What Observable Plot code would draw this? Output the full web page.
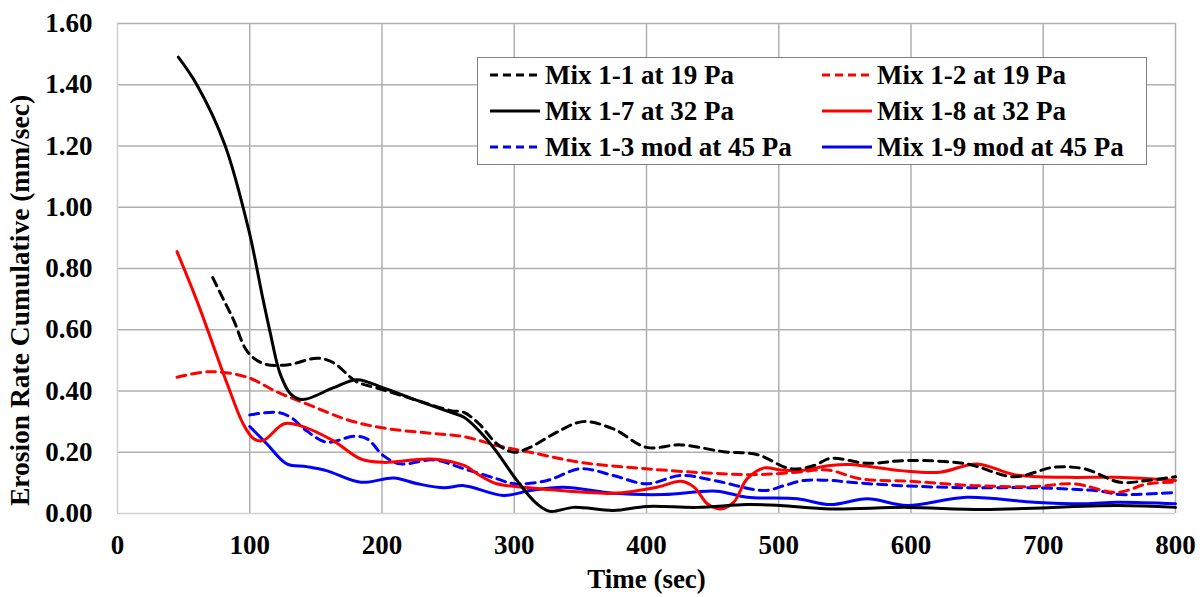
<!DOCTYPE html>
<html>
<head>
<meta charset="utf-8">
<script src="https://cdn.jsdelivr.net/npm/d3@7"></script>
<script src="https://cdn.jsdelivr.net/npm/@observablehq/plot@0.6"></script>
<style>
  html, body { margin: 0; padding: 0; background: #fff; }
  #wrap { position: relative; width: 1200px; height: 597px; font-family: "Liberation Serif", "Times New Roman", serif; font-weight: bold; }
  #legend { position: absolute; left: 477px; top: 57px; width: 670px; height: 108px; border: 1px solid #808080; background: #fff; box-sizing: border-box; }
  .item { position: absolute; display: flex; align-items: center; font-size: 27px; line-height: 1; white-space: nowrap; color: #000; }
  .item svg { display: block; margin-right: 5px; }
</style>
</head>
<body>
<div id="wrap"><div id="chart"></div><div id="legend"></div></div>
<script>
// ---------- data ----------
const seriesNames = ["Mix 1-1 at 19 Pa", "Mix 1-2 at 19 Pa", "Mix 1-7 at 32 Pa", "Mix 1-8 at 32 Pa", "Mix 1-3 mod at 45 Pa", "Mix 1-9 mod at 45 Pa"];

const timeMix11 = [72, 80, 88, 98, 110, 128, 151, 163, 181, 196, 226, 252, 262, 274, 287, 300, 312, 332, 352, 375, 400, 426, 458, 484, 509, 527, 539, 567, 597, 642, 678, 708, 731, 758, 779, 800];
const rateMix11 = [0.77, 0.70, 0.63, 0.53, 0.49, 0.485, 0.507, 0.493, 0.43, 0.41, 0.37, 0.336, 0.33, 0.29, 0.227, 0.20, 0.216, 0.265, 0.30, 0.276, 0.216, 0.224, 0.202, 0.192, 0.146, 0.157, 0.18, 0.164, 0.173, 0.162, 0.12, 0.151, 0.146, 0.102, 0.108, 0.12];

const timeMix12 = [45, 70, 98, 121, 143, 176, 206, 237, 262, 287, 312, 350, 400, 451, 484, 514, 537, 562, 600, 648, 693, 723, 756, 779, 800];
const rateMix12 = [0.445, 0.463, 0.445, 0.396, 0.358, 0.303, 0.276, 0.262, 0.251, 0.222, 0.20, 0.167, 0.146, 0.131, 0.127, 0.135, 0.142, 0.113, 0.105, 0.091, 0.088, 0.097, 0.069, 0.097, 0.102];

const timeMix17 = [46, 60, 81, 99, 110, 115.5, 123, 131, 140, 163, 181, 201, 226, 252, 262, 282, 302, 317, 327, 345, 375, 400, 438, 476, 501, 539, 597, 655, 756, 800];
const rateMix17 = [1.49, 1.40, 1.206, 0.93, 0.70, 0.59, 0.456, 0.39, 0.372, 0.41, 0.437, 0.41, 0.37, 0.33, 0.314, 0.228, 0.108, 0.032, 0.007, 0.02, 0.01, 0.023, 0.02, 0.029, 0.026, 0.015, 0.02, 0.013, 0.026, 0.02];

const timeMix18 = [45, 60, 83, 95, 103, 110, 126, 138, 163, 184, 201, 237, 262, 274, 287, 312, 350, 375, 408, 426, 436, 446, 456, 466, 476, 489, 501, 516, 539, 554, 592, 622, 650, 678, 718, 756, 800];
const rateMix18 = [0.855, 0.695, 0.423, 0.293, 0.244, 0.238, 0.293, 0.287, 0.238, 0.178, 0.167, 0.178, 0.157, 0.124, 0.097, 0.084, 0.07, 0.066, 0.086, 0.105, 0.086, 0.032, 0.015, 0.037, 0.113, 0.149, 0.142, 0.14, 0.157, 0.16, 0.14, 0.135, 0.162, 0.127, 0.118, 0.118, 0.108];

const timeMix13 = [100, 121, 131, 143, 158, 179, 189, 201, 214, 239, 262, 287, 300, 325, 350, 375, 400, 426, 451, 489, 504, 519, 539, 554, 592, 642, 693, 743, 758, 800];
const rateMix13 = [0.322, 0.33, 0.314, 0.27, 0.233, 0.252, 0.243, 0.189, 0.162, 0.175, 0.146, 0.113, 0.097, 0.108, 0.146, 0.124, 0.097, 0.124, 0.108, 0.075, 0.091, 0.108, 0.108, 0.102, 0.091, 0.084, 0.084, 0.073, 0.062, 0.069];

const timeMix19 = [100, 113, 128, 143, 158, 184, 209, 227, 247, 262, 292, 312, 337, 375, 413, 453, 476, 514, 539, 567, 597, 642, 693, 731, 756, 800];
const rateMix19 = [0.284, 0.227, 0.162, 0.153, 0.14, 0.102, 0.116, 0.097, 0.084, 0.091, 0.059, 0.075, 0.086, 0.066, 0.062, 0.073, 0.053, 0.048, 0.029, 0.048, 0.026, 0.053, 0.037, 0.032, 0.037, 0.032];

const xTicks = [0, 100, 200, 300, 400, 500, 600, 700, 800];
const yTicks = [0, 0.2, 0.4, 0.6, 0.8, 1.0, 1.2, 1.4, 1.6];

// ---------- styling ----------
const styles = {
  "Mix 1-1 at 19 Pa":     {color: "#000000", dash: "9,6"},
  "Mix 1-2 at 19 Pa":     {color: "#ff0000", dash: "9,6"},
  "Mix 1-7 at 32 Pa":     {color: "#000000", dash: null},
  "Mix 1-8 at 32 Pa":     {color: "#ff0000", dash: null},
  "Mix 1-3 mod at 45 Pa": {color: "#0000ff", dash: "9,6"},
  "Mix 1-9 mod at 45 Pa": {color: "#0000ff", dash: null}
};
const seriesData = {
  "Mix 1-1 at 19 Pa": [timeMix11, rateMix11],
  "Mix 1-2 at 19 Pa": [timeMix12, rateMix12],
  "Mix 1-7 at 32 Pa": [timeMix17, rateMix17],
  "Mix 1-8 at 32 Pa": [timeMix18, rateMix18],
  "Mix 1-3 mod at 45 Pa": [timeMix13, rateMix13],
  "Mix 1-9 mod at 45 Pa": [timeMix19, rateMix19]
};
function rows(name) {
  const [t, v] = seriesData[name];
  return t.map((d, i) => ({time: d, rate: v[i], series: name}));
}
const drawOrder = ["Mix 1-3 mod at 45 Pa", "Mix 1-9 mod at 45 Pa", "Mix 1-2 at 19 Pa", "Mix 1-8 at 32 Pa", "Mix 1-1 at 19 Pa", "Mix 1-7 at 32 Pa"];

const font = "Liberation Serif, Times New Roman, serif";
const lineMarks = drawOrder.map(name => Plot.line(rows(name), {
  x: "time", y: "rate",
  stroke: styles[name].color,
  strokeWidth: 3,
  strokeDasharray: styles[name].dash || undefined,
  curve: "catmull-rom"
}));

const chart = Plot.plot({
  width: 1200,
  height: 597,
  marginLeft: 117,
  marginRight: 25,
  marginTop: 23,
  marginBottom: 84,
  style: {fontFamily: font, fontSize: "26px", fontWeight: "bold", background: "#fff", color: "#000"},
  x: {domain: [0, 800], label: null},
  y: {domain: [0, 1.6], label: null},
  marks: [
    Plot.ruleX(xTicks.filter(d => d > 0), {stroke: "#b0b0b0", strokeWidth: 1.5}),
    Plot.ruleY(yTicks.filter(d => d > 0), {stroke: "#b0b0b0", strokeWidth: 1.5}),
    Plot.ruleX([0], {stroke: "#d0d0d0", strokeWidth: 1.5}),
    Plot.ruleY([0], {stroke: "#d0d0d0", strokeWidth: 1.5}),
    ...lineMarks,
    Plot.axisX({ticks: xTicks, tickSize: 0, tickPadding: 21, tickFormat: d3.format("d"), label: null, fontSize: 27, fontWeight: "bold"}),
    Plot.axisY({ticks: yTicks, tickSize: 0, tickPadding: 25, tickFormat: d3.format(".2f"), label: null, fontSize: 27, fontWeight: "bold"}),
    Plot.text(["Time (sec)"], {frameAnchor: "bottom", dy: 66, lineAnchor: "middle", textAnchor: "middle", fontSize: 27, fontWeight: "bold", fill: "#000"}),
    Plot.text(["Erosion Rate Cumulative (mm/sec)"], {frameAnchor: "left", dx: -97, dy: 32, rotate: -90, lineAnchor: "middle", textAnchor: "middle", fontSize: 27.5, fontWeight: "bold", fill: "#000"})
  ]
});
document.getElementById("chart").appendChild(chart);

// ---------- legend (overlay inside plot area, as in the reference) ----------
const legend = document.getElementById("legend");
const legendLayout = [
  ["Mix 1-1 at 19 Pa", 0, 0], ["Mix 1-2 at 19 Pa", 1, 0],
  ["Mix 1-7 at 32 Pa", 0, 1], ["Mix 1-8 at 32 Pa", 1, 1],
  ["Mix 1-3 mod at 45 Pa", 0, 2], ["Mix 1-9 mod at 45 Pa", 1, 2]
];
const colLeft = [12, 344];
const rowCenter = [17, 53, 89];
for (const [name, c, r] of legendLayout) {
  const s = styles[name];
  const div = document.createElement("div");
  div.className = "item";
  div.style.left = colLeft[c] + "px";
  div.style.top = (rowCenter[r] - 14) + "px";
  div.style.height = "28px";
  div.innerHTML = `<svg width="50" height="10"><line x1="0" y1="5" x2="50" y2="5" stroke="${s.color}" stroke-width="3" ${s.dash ? `stroke-dasharray="8,5"` : ""}/></svg><span>${name}</span>`;
  legend.appendChild(div);
}
</script>
</body>
</html>
